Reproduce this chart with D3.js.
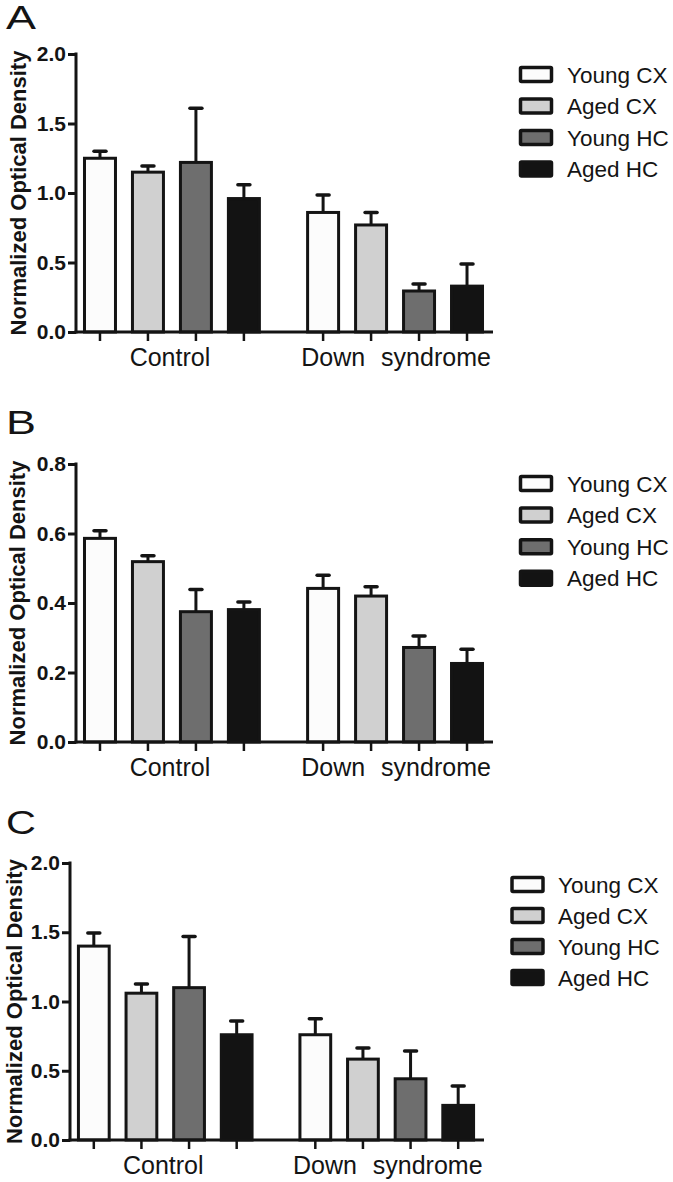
<!DOCTYPE html>
<html>
<head>
<meta charset="utf-8">
<script src="https://cdn.jsdelivr.net/npm/d3@7"></script>
<style>
  html, body { margin: 0; padding: 0; background: #ffffff; }
  svg { display: block; font-family: "Liberation Sans", Arial, sans-serif; }
</style>
</head>
<body>
<svg id="chart" width="673" height="1182"></svg>
<script>
// ---- Data ----
const categories = ["Control", "Down syndrome"];
const seriesNames = ["Young CX", "Aged CX", "Young HC", "Aged HC"];
const panelLetters = ["A", "B", "C"];
const yAxisTitle = "Normalized Optical Density";

// Panel A (means and SEM per category, per series)
const meanA = [[1.25, 1.15, 1.22, 0.96], [0.86, 0.77, 0.295, 0.33]];
const errA  = [[0.05, 0.045, 0.39, 0.10], [0.125, 0.09, 0.05, 0.16]];
const ticksA = [0, 0.5, 1.0, 1.5, 2.0];

// Panel B
const meanB = [[0.586, 0.519, 0.375, 0.381], [0.442, 0.420, 0.272, 0.226]];
const errB  = [[0.022, 0.017, 0.064, 0.022], [0.038, 0.027, 0.033, 0.041]];
const ticksB = [0, 0.2, 0.4, 0.6, 0.8];

// Panel C
const meanC = [[1.40, 1.06, 1.10, 0.76], [0.76, 0.584, 0.442, 0.25]];
const errC  = [[0.095, 0.067, 0.37, 0.10], [0.115, 0.08, 0.20, 0.14]];
const ticksC = [0, 0.5, 1.0, 1.5, 2.0];

// ---- Styles / layout ----
const fills = ["#fcfcfc", "#d0d0d0", "#6e6e6e", "#131313"];
const ink = "#141414";

const panels = [
  { letter: panelLetters[0], mean: meanA, err: errA, ticks: ticksA, max: 2.0,
    x0: 76, x1: 491, xEnd: 493, yBottom: 332, yTop: 54, letterY: 29, titleX: 26,
    legX: 520.5, legY: 67.5, legTextX: 567, legStep: 31.5 },
  { letter: panelLetters[1], mean: meanB, err: errB, ticks: ticksB, max: 0.8,
    x0: 76, x1: 491, xEnd: 493, yBottom: 742, yTop: 464, letterY: 434, titleX: 25,
    legX: 520.5, legY: 476.5, legTextX: 567, legStep: 31.6 },
  { letter: panelLetters[2], mean: meanC, err: errC, ticks: ticksC, max: 2.0,
    x0: 70, x1: 482, xEnd: 484, yBottom: 1140, yTop: 863, letterY: 834, titleX: 22,
    legX: 512, legY: 877.5, legTextX: 558, legStep: 31 }
];

const svg = d3.select("#chart");

panels.forEach(p => {
  const g = svg.append("g");

  const y = d3.scaleLinear().domain([0, p.max]).range([p.yBottom, p.yTop]);
  const xGroup = d3.scaleBand().domain(categories).range([p.x0, p.x1])
    .paddingInner(0.14).paddingOuter(0);
  const xSeries = d3.scaleBand().domain(seriesNames).range([0, xGroup.bandwidth()])
    .paddingInner(0.354).paddingOuter(0.177);

  // Panel letter
  g.append("text")
    .attr("x", 6).attr("y", p.letterY)
    .attr("font-size", 33)
    .attr("textLength", 30).attr("lengthAdjust", "spacingAndGlyphs")
    .attr("fill", ink)
    .text(p.letter);

  // Y axis
  const yAxis = d3.axisLeft(y).tickValues(p.ticks).tickFormat(d3.format(".1f"))
    .tickSize(8).tickPadding(2);
  const ya = g.append("g").attr("transform", `translate(${p.x0},0)`).call(yAxis);
  ya.select(".domain").remove();
  ya.selectAll(".tick line").attr("stroke", ink).attr("stroke-width", 3);
  ya.selectAll(".tick text").attr("font-size", 21).attr("font-weight", "bold")
    .attr("fill", ink).attr("font-family", "Liberation Sans, Arial, sans-serif");
  g.append("line")
    .attr("x1", p.x0).attr("x2", p.x0)
    .attr("y1", p.yTop - 1.5).attr("y2", p.yBottom + 1.5)
    .attr("stroke", ink).attr("stroke-width", 3);

  // Y title
  g.append("text")
    .attr("transform", `translate(${p.titleX},${(p.yTop + p.yBottom) / 2}) rotate(-90)`)
    .attr("text-anchor", "middle")
    .attr("font-size", 22).attr("font-weight", "bold").attr("fill", ink)
    .text(yAxisTitle);

  // Bars
  categories.forEach((cat, ci) => {
    const gx = xGroup(cat);
    const rows = seriesNames.map((s, si) => ({
      s, si, v: p.mean[ci][si], e: p.err[ci][si],
      cx: gx + xSeries(s) + xSeries.bandwidth() / 2
    }));

    // error bars (upper only) drawn first, bar covers lower part
    const eb = g.append("g");
    eb.selectAll("line.v").data(rows).join("line")
      .attr("x1", d => d.cx).attr("x2", d => d.cx)
      .attr("y1", d => y(d.v)).attr("y2", d => y(d.v + d.e))
      .attr("stroke", ink).attr("stroke-width", 3);
    eb.selectAll("line.c").data(rows).join("line")
      .attr("x1", d => d.cx - 6).attr("x2", d => d.cx + 6)
      .attr("y1", d => y(d.v + d.e)).attr("y2", d => y(d.v + d.e))
      .attr("stroke", ink).attr("stroke-width", 3.5).attr("stroke-linecap", "round");

    g.append("g").selectAll("rect").data(rows).join("rect")
      .attr("x", d => gx + xSeries(d.s))
      .attr("width", xSeries.bandwidth())
      .attr("y", d => y(d.v))
      .attr("height", d => y(0) - y(d.v))
      .attr("fill", d => fills[d.si])
      .attr("stroke", ink).attr("stroke-width", 3);

    // ticks under x axis
    g.append("g").selectAll("line").data(rows).join("line")
      .attr("x1", d => d.cx).attr("x2", d => d.cx)
      .attr("y1", p.yBottom).attr("y2", p.yBottom + 9)
      .attr("stroke", ink).attr("stroke-width", 2.5);
  });

  // X axis line
  g.append("line")
    .attr("x1", p.x0 - 1.5).attr("x2", p.xEnd)
    .attr("y1", p.yBottom).attr("y2", p.yBottom)
    .attr("stroke", ink).attr("stroke-width", 3);

  // Category labels
  categories.forEach((cat, ci) => {
    const cx = xGroup(cat) + xGroup.bandwidth() / 2;
    const t = g.append("text")
      .attr("x", cx + (ci === 0 ? -2 : 1)).attr("y", p.yBottom + 34)
      .attr("text-anchor", "middle")
      .attr("font-size", 25).attr("fill", ink);
    const words = cat.split(" ");
    words.forEach((w, i) => {
      t.append("tspan").attr("dx", i === 0 ? 0 : 9).text(i === 0 ? w : " " + w);
    });
  });

  // Legend
  const leg = g.append("g");
  seriesNames.forEach((s, si) => {
    const ly = p.legY + si * p.legStep;
    leg.append("rect")
      .attr("x", p.legX).attr("y", ly)
      .attr("width", 31).attr("height", 14)
      .attr("fill", fills[si]).attr("stroke", ink).attr("stroke-width", 3.5)
      .attr("rx", 1);
    leg.append("text")
      .attr("x", p.legTextX).attr("y", ly + 15)
      .attr("font-size", 22.5).attr("fill", ink)
      .text(s);
  });
});
</script>
</body>
</html>
